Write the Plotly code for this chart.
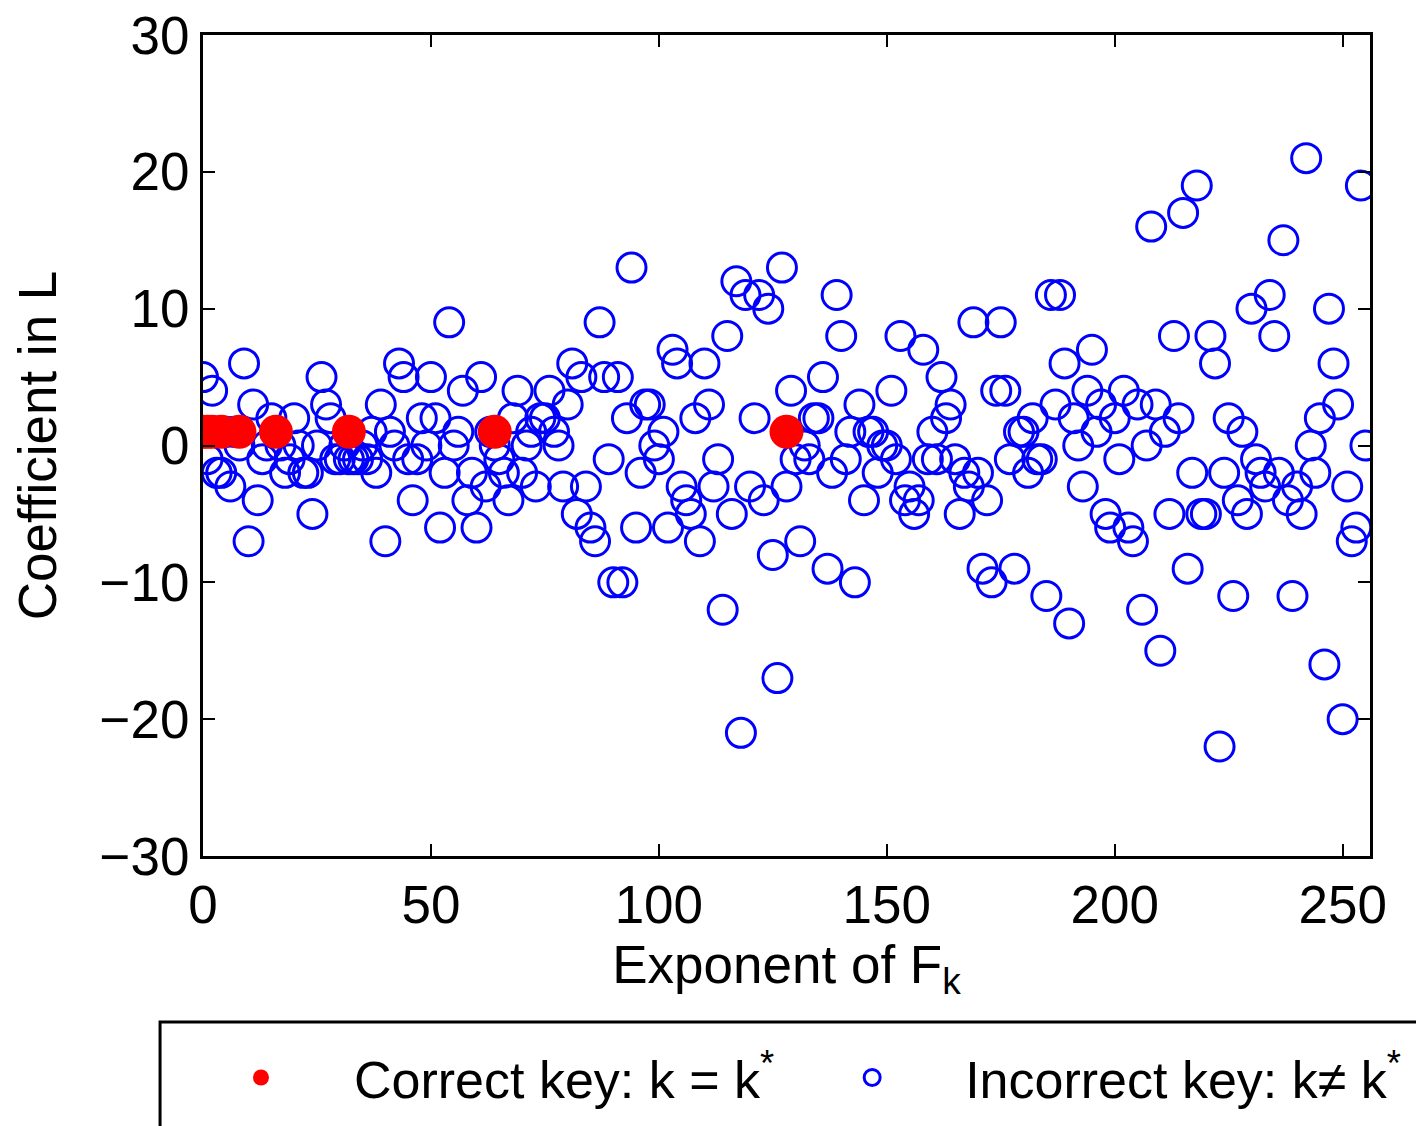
import plotly.graph_objects as go

# ---------------- data ----------------
exponents = list(range(256))
incorrect_coeffs = [
    5, -1, 4, -2, -2, 1, -3, 1, 0, 6,          # 0-9
    -7, 3, -4, -1, 0, 2, 1, 0, -2, -1,         # 10-19
    2, 0, -2, -2, -5, 0, 5, 3, 2, -1,          # 20-29
    -1, 0, -1, -1, -1, 0, -1, 1, -2, 3,        # 30-39
    -7, 1, 0, 6, 5, -1, -4, -1, 2, 0,          # 40-49
    5, 2, -6, -2, 9, 0, 1, 4, -4, -2,          # 50-59
    -6, 5, -3, 1, 0, -1, -2, -4, 2, 4,         # 60-69
    -2, 0, 1, -3, 2, 2, 4, 1, 0, -3,           # 70-79
    3, 6, -5, 5, -3, -6, -7, 9, 5, -1,         # 80-89
    -10, 5, -10, 2, 13, -6, -2, 3, 3, 0,       # 90-99
    -1, 1, -6, 7, 6, -3, -4, -5, 2, -7,        # 100-109
    6, 3, -3, -1, -12, 8, -5, 12, -21, 11,     # 110-119
    -3, 2, 11, -4, 10, -8, -17, 13, -3, 4,     # 120-129
    -1, -7, 0, -1, 2, 2, 5, -9, -2, 11,        # 130-139
    8, -1, 1, -10, 3, -4, 1, 1, -2, 0,         # 140-149
    0, 4, -1, 8, -4, -3, -5, -4, 7, -1,        # 150-159
    1, -1, 5, 2, 3, -1, -5, -2, -3, 9,         # 160-169
    -2, -9, -4, -10, 4, 9, 4, -1, -9, 1,       # 170-179
    1, -2, 2, -1, -1, -11, 11, 3, 11, 6,       # 180-189
    -13, 2, 0, -3, 4, 7, 1, 3, -5, -6,         # 190-199
    2, -1, 4, -6, -7, 3, -12, 0, 16, 3,        # 200-209
    -15, 1, -5, 8, 2, 17, -9, -2, 19, -5,      # 210-219
    -5, 8, 6, -22, -2, 2, -11, -4, 1, -5,      # 220-229
    10, -1, -2, -3, 11, 8, -2, 15, -4, -11,    # 230-239
    -3, -5, 21, 0, -2, 2, -16, 10, 6, 3,       # 240-249
    -20, -3, -7, -6, 19, 0,                    # 250-255
]
correct_exponents = [0, 1, 2, 4, 8, 16, 32, 64, 128]
correct_coeffs = [1, 1, 1, 1, 1, 1, 1, 1, 1]

x_tick_values = [0, 50, 100, 150, 200, 250]
y_tick_values = [-30, -20, -10, 0, 10, 20, 30]

FONT = "Liberation Sans, Arial, Helvetica, sans-serif"

fig = go.Figure()
fig.add_trace(go.Scatter(
    x=exponents, y=incorrect_coeffs, mode="markers",
    name="Incorrect key: k\u2260 k<sup>*</sup>",
    marker=dict(symbol="circle-open", size=29, color="#0000ff",
                line=dict(width=3, color="#0000ff")),
))
fig.add_trace(go.Scatter(
    x=correct_exponents, y=correct_coeffs, mode="markers",
    name="Correct key: k = k<sup>*</sup>",
    marker=dict(symbol="circle", size=34, color="#ff0000"),
))

axis_common = dict(
    showline=True, linecolor="black", linewidth=3, mirror="ticks",
    ticks="inside", ticklen=12, tickwidth=2, tickcolor="black",
    showgrid=False, zeroline=False,
    tickfont=dict(family=FONT, size=53, color="black"),
)

fig.update_layout(
    width=1416, height=1126,
    margin=dict(l=203, r=46, t=35, b=270, pad=0, autoexpand=False),
    paper_bgcolor="white", plot_bgcolor="white",
    font=dict(family=FONT, size=53, color="black"),
    xaxis=dict(range=[0, 256], tickvals=x_tick_values,
               title=dict(text="Exponent of F<sub>k</sub>", standoff=14,
                          font=dict(family=FONT, size=53)),
               **axis_common),
    yaxis=dict(range=[-30, 30], tickvals=y_tick_values,
               title=dict(text="Coefficient in L", standoff=26,
                          font=dict(family=FONT, size=53)),
               **axis_common),
    showlegend=True,
    legend=dict(orientation="h", traceorder="reversed",
                x=-0.03, xanchor="left", y=-0.27, yanchor="middle",
                font=dict(family=FONT, size=52, color="black"),
                itemwidth=176,
                bgcolor="rgba(0,0,0,0)", borderwidth=0),
    shapes=[dict(type="rect", xref="paper", yref="paper",
                 x0=-0.0368, x1=1.2, y0=-0.2022, y1=-0.6,
                 line=dict(color="black", width=3), layer="below")],
)

fig.write_html("out.html")
